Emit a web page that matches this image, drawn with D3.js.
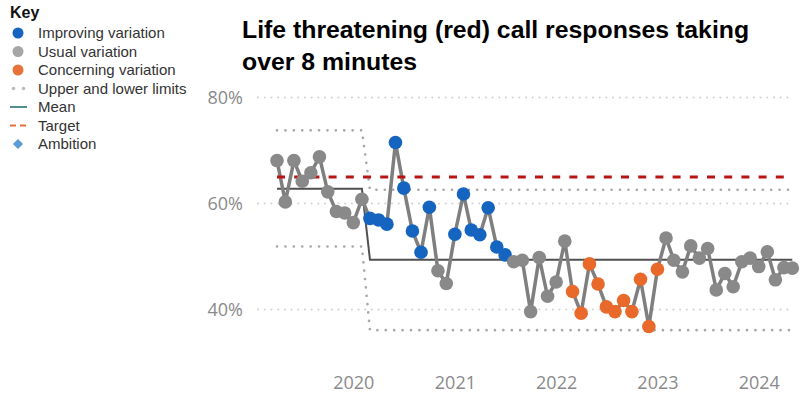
<!DOCTYPE html>
<html>
<head>
<meta charset="utf-8">
<script src="https://cdn.jsdelivr.net/npm/d3@7"></script>
<style>
  html, body { margin: 0; padding: 0; background: #fff; }
  svg { display: block; }
</style>
</head>
<body>
<svg id="chart" width="801" height="394"></svg>
<script>
// Monthly share of red calls answered in over 8 minutes (%), Apr 2019 – May 2024
const firstMonth = Date.UTC(2019, 3, 1);
const endMonth = Date.UTC(2024, 5, 1);
const values = [
  68.1, 60.3, 68.1, 64.2, 65.8, 68.8, 62.2, 58.5, 58.2, 56.4, 60.8,
  57.2, 56.9, 56.1, 71.5, 62.9, 54.8, 50.8, 59.3, 47.3, 44.9, 54.2,
  61.8, 55.0, 54.1, 59.2, 51.8, 50.3, 49.0, 49.3, 39.6, 49.8, 42.5,
  45.2, 52.9, 43.4, 39.3, 48.6, 44.8, 40.5, 39.6, 41.7, 39.6, 45.7,
  36.8, 47.6, 53.5, 49.3, 47.1, 52.0, 49.7, 51.5, 43.7, 46.8, 44.3,
  49.0, 49.7, 48.1, 50.9, 45.6, 47.9, 47.8
];
// u = usual, i = improving, c = concerning
const status = [
  "u","u","u","u","u","u","u","u","u","u","u",
  "i","i","i","i","i","i","i","i","u","u",
  "i","i","i","i","i","i","i",
  "u","u","u","u","u","u","u",
  "c","c","c","c","c","c","c","c","c","c","c",
  "u","u","u","u","u","u","u","u","u","u","u","u","u","u","u","u"
];
// Process phases (index where each phase starts) with mean and control limits
const phaseStart = [0, 11];
const phaseMean = [62.8, 49.4];
const phaseUpper = [73.8, 62.6];
const phaseLower = [51.9, 36.1];
const target = 65;
const yTicks = [40, 60, 80];

const legendItems = [
  { label: "Improving variation", kind: "dot", color: "#1565c0" },
  { label: "Usual variation", kind: "dot", color: "#a6a6a6" },
  { label: "Concerning variation", kind: "dot", color: "#e8733a" },
  { label: "Upper and lower limits", kind: "dots", color: "#bdbdbd" },
  { label: "Mean", kind: "line", color: "#4f8f8c" },
  { label: "Target", kind: "dash", color: "#e8733a" },
  { label: "Ambition", kind: "diamond", color: "#5b9bd5" }
];

const statusColor = { u: "#898989", i: "#1565c0", c: "#e8692a" };

const months = d3.utcMonth.range(firstMonth, endMonth);
const phaseOf = i => (i >= phaseStart[1] ? 1 : 0);
const points = values.map((v, i) => ({
  date: months[i], value: v, status: status[i],
  mean: phaseMean[phaseOf(i)], upper: phaseUpper[phaseOf(i)], lower: phaseLower[phaseOf(i)]
}));

const svg = d3.select("#chart");

const x = d3.scaleUtc().domain([months[0], months[months.length - 1]]).range([277, 792.3]);
const y = d3.scaleLinear().domain([40, 80]).range([309.5, 97.5]);

// Title
const title = svg.append("text")
  .attr("x", 242).attr("y", 38)
  .attr("font-family", "'Liberation Sans', Arial, sans-serif")
  .attr("font-weight", "bold").attr("font-size", 24.8).attr("fill", "#000");
title.append("tspan").attr("x", 242).attr("y", 38).text("Life threatening (red) call responses taking");
title.append("tspan").attr("x", 242).attr("y", 70).text("over 8 minutes");

// Gridlines
svg.append("g").selectAll("line").data(yTicks).join("line")
  .attr("x1", 258).attr("x2", 792)
  .attr("y1", d => y(d)).attr("y2", d => y(d))
  .attr("stroke", "#d2d2d2").attr("stroke-width", 2)
  .attr("stroke-dasharray", "0.1 6.6").attr("stroke-linecap", "round");

// Y axis
const yAxis = svg.append("g").attr("transform", "translate(251,0)")
  .call(d3.axisLeft(y).tickValues(yTicks).tickSize(0).tickPadding(8).tickFormat(d => d + "%"));
yAxis.select(".domain").remove();
yAxis.selectAll("text")
  .attr("font-family", "'Open Sans', sans-serif").attr("font-size", 18)
  .attr("fill", "#8a8a8a").attr("dy", "0.36em");

// X axis
const xAxis = svg.append("g").attr("transform", "translate(0,371)")
  .call(d3.axisBottom(x).ticks(d3.utcYear.every(1)).tickSize(0).tickPadding(0).tickFormat(d3.utcFormat("%Y")));
xAxis.select(".domain").remove();
xAxis.selectAll("text")
  .attr("font-family", "'Open Sans', sans-serif").attr("font-size", 18)
  .attr("fill", "#8a8a8a").attr("y", 18).attr("dy", 0);

// Control limits
["upper", "lower"].forEach(key => {
  svg.append("path").datum(points)
    .attr("fill", "none").attr("stroke", "#a8a8a8").attr("stroke-width", 2.6)
    .attr("stroke-dasharray", "0.1 8.3").attr("stroke-linecap", "round")
    .attr("d", d3.line().x(d => x(d.date)).y(d => y(d[key])));
});

// Mean
svg.append("path").datum(points)
  .attr("fill", "none").attr("stroke", "#505050").attr("stroke-width", 2)
  .attr("d", d3.line().x(d => x(d.date)).y(d => y(d.mean)));

// Data line
svg.append("path").datum(points)
  .attr("fill", "none").attr("stroke", "#7f7f7f").attr("stroke-width", 3.5)
  .attr("stroke-linejoin", "round")
  .attr("d", d3.line().x(d => x(d.date)).y(d => y(d.value)));

// Target
svg.append("line")
  .attr("x1", x(months[0])).attr("x2", x(months[months.length - 1]))
  .attr("y1", y(target)).attr("y2", y(target))
  .attr("stroke", "#b81414").attr("stroke-width", 3)
  .attr("stroke-dasharray", "8 9.2");

// Markers
svg.append("g").selectAll("circle").data(points).join("circle")
  .attr("cx", d => x(d.date)).attr("cy", d => y(d.value)).attr("r", 6.8)
  .attr("fill", d => statusColor[d.status]);

// Key
const key = svg.append("g")
  .attr("font-family", "'Liberation Sans', Arial, sans-serif");
key.append("text").attr("x", 10).attr("y", 18)
  .attr("font-weight", "bold").attr("font-size", 16).attr("fill", "#111").text("Key");
const rows = key.selectAll("g.row").data(legendItems).join("g")
  .attr("class", "row")
  .attr("transform", (d, i) => `translate(0,${33 + i * 18.5})`);
rows.append("text").attr("x", 38).attr("y", 0).attr("dy", "0.35em")
  .attr("font-size", 15).attr("fill", "#333").text(d => d.label);
rows.each(function (d) {
  const g = d3.select(this);
  if (d.kind === "dot") {
    g.append("circle").attr("cx", 18).attr("cy", 0).attr("r", 5.5).attr("fill", d.color);
  } else if (d.kind === "dots") {
    [13.5, 23.5].forEach(cx => g.append("circle").attr("cx", cx).attr("cy", 0).attr("r", 1.8).attr("fill", d.color));
  } else if (d.kind === "line") {
    g.append("line").attr("x1", 10).attr("x2", 27).attr("y1", 0).attr("y2", 0)
      .attr("stroke", d.color).attr("stroke-width", 2);
  } else if (d.kind === "dash") {
    g.append("line").attr("x1", 10).attr("x2", 27).attr("y1", 0).attr("y2", 0)
      .attr("stroke", d.color).attr("stroke-width", 2).attr("stroke-dasharray", "6 4");
  } else if (d.kind === "diamond") {
    g.append("path").attr("transform", "translate(18,0) rotate(45)")
      .attr("d", "M-3.6,-3.6H3.6V3.6H-3.6Z").attr("fill", d.color);
  }
});
</script>
</body>
</html>
